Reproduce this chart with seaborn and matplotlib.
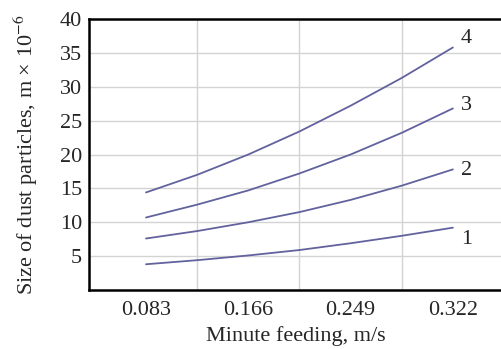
import numpy as np
import pandas as pd
import matplotlib
matplotlib.use("Agg")
import matplotlib.pyplot as plt
import seaborn as sns

# x categories (equally spaced on the chart)
feed_labels = ["0.083", "0.166", "0.249", "0.322"]
# positions along the axis where the curves were read (category index units)
x_read = [0.0, 0.5, 1.0, 1.5, 2.0, 2.5, 3.0]

curve_1 = [3.8, 4.4, 5.1, 5.9, 6.9, 8.0, 9.2]
curve_2 = [7.6, 8.7, 10.0, 11.5, 13.3, 15.4, 17.8]
curve_3 = [10.7, 12.6, 14.7, 17.2, 20.0, 23.2, 26.8]
curve_4 = [14.4, 17.0, 20.0, 23.4, 27.2, 31.3, 35.8]

curve_names = ["1", "2", "3", "4"]
label_y = [7.5, 17.6, 27.3, 37.1]
y_ticks = [5, 10, 15, 20, 25, 30, 35, 40]

df = pd.DataFrame({
    "x": x_read * 4,
    "size": curve_1 + curve_2 + curve_3 + curve_4,
    "curve": sum([[n] * len(x_read) for n in curve_names], []),
})

sns.set_style("white")
plt.rcParams["font.family"] = ["Liberation Serif", "DejaVu Serif"]
plt.rcParams["mathtext.fontset"] = "stix"

W, H = 502, 349
fig = plt.figure(figsize=(W / 100, H / 100), dpi=100)
ax = fig.add_axes([89 / W, 1 - 290 / H, 1 - 89 / W, (290 - 19) / H])

line_col = "#62629f"
sns.lineplot(data=df, x="x", y="size", hue="curve",
             palette=[line_col] * 4, linewidth=1.3, legend=False, ax=ax)
for ln in ax.get_lines():
    ln.set_solid_joinstyle("round")

for name, yy in zip(curve_names, label_y):
    ax.text(3.13, yy, name, fontsize=16, ha="center", va="center",
            bbox=dict(facecolor="white", edgecolor="none", pad=1))

x0 = (89 - 146) / 102.3
ax.set_xlim(x0, x0 + (502 - 89) / 102.3)
ax.set_ylim(0, 40)

ax.set_xticks(range(len(feed_labels)))
ax.set_xticklabels(feed_labels)
ax.set_xticks([x0, 0.5, 1.5, 2.5], minor=True)
ax.set_yticks(y_ticks)
ax.tick_params(axis="x", which="major", length=0, pad=8, labelsize=16)
ax.tick_params(axis="x", which="minor", length=8, width=1, color="#d0d0d0")
ax.tick_params(axis="y", length=4, width=1, color="#d0d0d0", pad=1, labelsize=16)

ax.grid(True, axis="y", which="major", color="#d3d3d3", linewidth=1)
ax.grid(True, axis="x", which="minor", color="#d3d3d3", linewidth=1)
ax.set_axisbelow(True)

for side in ["left", "bottom", "top"]:
    ax.spines[side].set_color("black")
    ax.spines[side].set_linewidth(1.8)
ax.spines["right"].set_visible(False)

ax.set_xlabel("Minute feeding, m/s", fontsize=16, labelpad=4)
ax.set_ylabel("Size of dust particles, m × 10$^{-6}$", fontsize=16, labelpad=14)

fig.savefig("out.png", dpi=100)
